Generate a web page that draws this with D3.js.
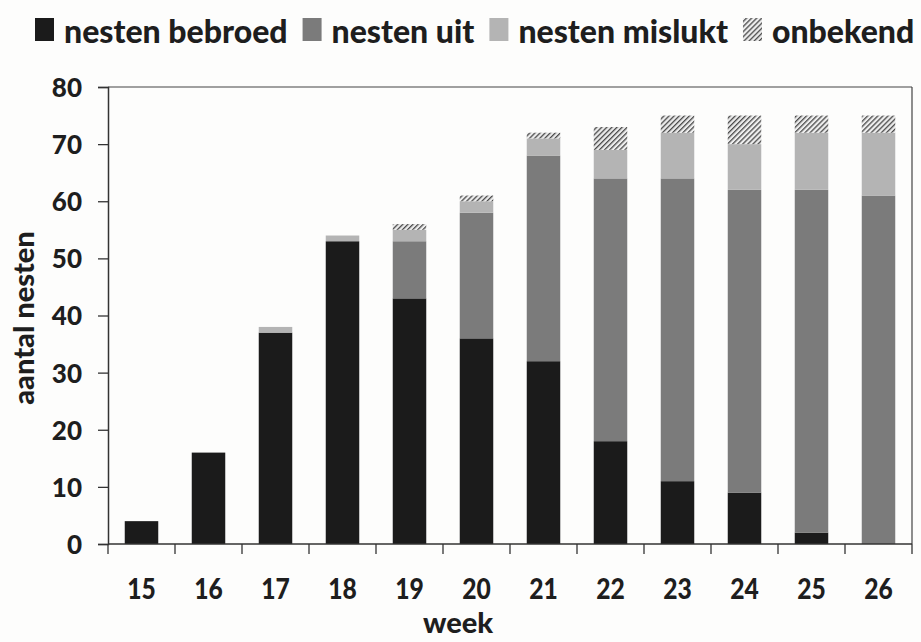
<!DOCTYPE html>
<html><head><meta charset="utf-8">
<script src="https://cdn.jsdelivr.net/npm/d3@7"></script>
<style>
html,body{margin:0;padding:0;background:#fdfdfc;}
svg{display:block;}
text{font-family:Lato,"Open Sans",sans-serif;font-weight:900;fill:#1e1e1e;}
</style></head>
<body>
<svg id="chart" width="921" height="642"></svg>
<script>
const weeks = ["15","16","17","18","19","20","21","22","23","24","25","26"];
const bebroed  = [4,16,37,53,43,36,32,18,11, 9, 2, 0];
const uit      = [0, 0, 0, 0,10,22,36,46,53,53,60,61];
const mislukt  = [0, 0, 1, 1, 2, 2, 3, 5, 8, 8,10,11];
const onbekend = [0, 0, 0, 0, 1, 1, 1, 4, 3, 5, 3, 3];
const seriesNames = ["nesten bebroed","nesten uit","nesten mislukt","onbekend"];
const yTicks = [0,10,20,30,40,50,60,70,80];

const svg = d3.select("#chart");
const defs = svg.append("defs");
const pat = defs.append("pattern").attr("id","hatch").attr("patternUnits","userSpaceOnUse")
  .attr("width",3.6).attr("height",3.6).attr("patternTransform","rotate(45)");
pat.append("rect").attr("width",3.6).attr("height",3.6).attr("fill","#ededed");
pat.append("rect").attr("x",0).attr("y",0).attr("width",1.3).attr("height",3.6).attr("fill","#4a4a4a");

const colors = ["#1b1b1b","#7b7b7b","#b4b4b4","url(#hatch)"];
const L = 108, R = 912, T = 87, B = 544;

const x = d3.scaleBand().domain(weeks).range([L,R]).paddingInner(0.5).paddingOuter(0.25);
const y = d3.scaleLinear().domain([0,80]).range([B,T]);

const data = weeks.map((w,i)=>({week:w, bebroed:bebroed[i], uit:uit[i], mislukt:mislukt[i], onbekend:onbekend[i]}));
const keys = ["bebroed","uit","mislukt","onbekend"];
const stack = d3.stack().keys(keys)(data);

// frame (top and right)
svg.append("line").attr("x1",L).attr("x2",R).attr("y1",T).attr("y2",T).attr("stroke","#444").attr("stroke-width",1.2);
svg.append("line").attr("x1",R).attr("x2",R).attr("y1",T).attr("y2",B).attr("stroke","#444").attr("stroke-width",1.2);

// bars
svg.append("g").selectAll("g").data(stack).join("g")
  .attr("fill",(d,i)=>colors[i])
  .selectAll("rect").data(d=>d.filter(s=>s[1]-s[0]>0)).join("rect")
  .attr("x",d=>x(d.data.week)).attr("width",x.bandwidth())
  .attr("y",d=>y(d[1])).attr("height",d=>y(d[0])-y(d[1]));

// y axis
const yAxis = svg.append("g").attr("transform",`translate(${L},0)`)
  .call(d3.axisLeft(y).tickValues(yTicks).tickSize(10).tickPadding(16));
yAxis.select(".domain").attr("stroke","#333").attr("stroke-width",1.5);
yAxis.selectAll(".tick line").attr("stroke","#333").attr("stroke-width",1.3);
yAxis.selectAll(".tick text").style("font-size","26px").attr("fill","#1e1e1e").attr("dy","0.36em");

// x axis: ticks at band boundaries
const step = x.step();
const boundaries = d3.range(weeks.length+1).map(i=>L + i*step);
svg.append("line").attr("x1",L).attr("x2",R).attr("y1",B).attr("y2",B).attr("stroke","#333").attr("stroke-width",1.5);
svg.append("g").selectAll("line").data(boundaries).join("line")
  .attr("x1",d=>d).attr("x2",d=>d).attr("y1",B).attr("y2",B+10)
  .attr("stroke","#333").attr("stroke-width",1.3);
svg.append("g").selectAll("text").data(weeks).join("text")
  .attr("transform",d=>`translate(${x(d)+x.bandwidth()/2},599) scale(0.88,1)`)
  .attr("text-anchor","middle").style("font-size","28px").text(d=>d);

// axis titles
svg.append("text").attr("x",458).attr("y",633).attr("text-anchor","middle")
  .style("font-size","29px").text("week");
svg.append("text").attr("transform","translate(34,318) rotate(-90)").attr("text-anchor","middle")
  .style("font-size","29px").text("aantal nesten");

// legend
const lg = svg.append("g");
let cx = 35;
seriesNames.forEach((name,i)=>{
  lg.append("rect").attr("x",cx).attr("y",18).attr("width",19).attr("height",23).attr("fill",colors[i]);
  const t = lg.append("text").attr("x",cx+29).attr("y",43).style("font-size","32px").text(name);
  const w = t.node().getComputedTextLength();
  cx += 29 + w + 15;
});
</script>
</body></html>
